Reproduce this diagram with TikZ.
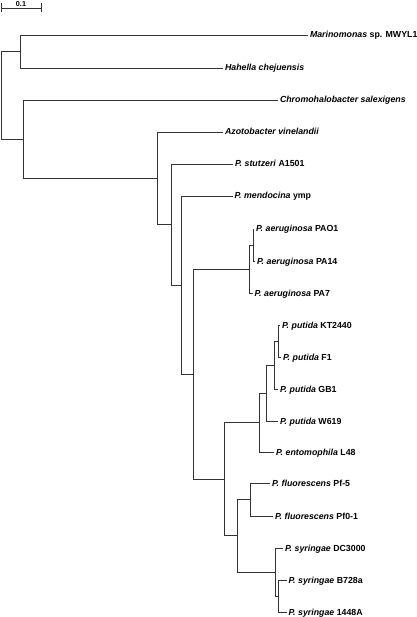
\documentclass[tikz,border=0pt]{standalone}
\usepackage{fontspec}
\setmainfont{Liberation Sans}
\begin{document}
\begin{tikzpicture}[x=1pt,y=-1pt,
  branch/.style={draw=black!80,line width=0.9pt},
  leaf/.style={anchor=west,inner xsep=1.8pt,inner ysep=0pt,font=\fontsize{8.8}{10}\selectfont\bfseries,text height=6.3pt,text depth=0.3pt},
  scalelabel/.style={anchor=south,inner sep=0.6pt,font=\fontsize{7.2}{8}\selectfont\bfseries}]
\useasboundingbox (0,0) rectangle (416,617);
% scale bar
\coordinate (sbL) at (1,8);
\coordinate (sbR) at (41,8);
\draw[branch] (sbL) -- (sbR);
\draw[branch] ([yshift=-4.5pt]sbL) -- ([yshift=4.5pt]sbL);
\draw[branch] ([yshift=-4.5pt]sbR) -- ([yshift=4.5pt]sbR);
\node[scalelabel] (sb) at (21,7.5) {0.1};
% leaves
\node[leaf] (mar) at (308,35) {\textit{Marinomonas} sp. MWYL1};
\node[leaf] (hah) at (223,68) {\textit{Hahella chejuensis}};
\node[leaf] (chr) at (278,100) {\textit{Chromohalobacter salexigens}};
\node[leaf] (azo) at (223,132) {\textit{Azotobacter vinelandii}};
\node[leaf] (stu) at (233,164) {\textit{P. stutzeri} A1501};
\node[leaf] (men) at (232.5,196) {\textit{P. mendocina} ymp};
\node[leaf] (pao) at (254,229) {\textit{P. aeruginosa} PAO1};
\node[leaf] (pa14) at (255,261) {\textit{P. aeruginosa} PA14};
\node[leaf] (pa7) at (252.5,293) {\textit{P. aeruginosa} PA7};
\node[leaf] (kt) at (280,325) {\textit{P. putida} KT2440};
\node[leaf] (f1) at (281,357) {\textit{P. putida} F1};
\node[leaf] (gb1) at (278,389) {\textit{P. putida} GB1};
\node[leaf] (w619) at (278,421) {\textit{P. putida} W619};
\node[leaf] (ent) at (274,452.5) {\textit{P. entomophila} L48};
\node[leaf] (pf5) at (270,483.5) {\textit{P. fluorescens} Pf-5};
\node[leaf] (pf01) at (273,516) {\textit{P. fluorescens} Pf0-1};
\node[leaf] (dc) at (283,548) {\textit{P. syringae} DC3000};
\node[leaf] (b728) at (286.5,580) {\textit{P. syringae} B728a};
\node[leaf] (s1448) at (286.5,612) {\textit{P. syringae} 1448A};
% internal nodes
\coordinate (root) at (1,95.3);
\coordinate (A) at (20,51.5);
\coordinate (B) at (23,139.1);
\coordinate (C) at (157,178.3);
\coordinate (D) at (171,224.5);
\coordinate (E) at (181,285.1);
\coordinate (F) at (193,374.1);
\coordinate (G) at (249,269);
\coordinate (H) at (253,245);
\coordinate (J) at (224,479.3);
\coordinate (K) at (259.3,422.75);
\coordinate (L) at (266,393);
\coordinate (M) at (274,365);
\coordinate (N) at (278.3,341);
\coordinate (O) at (237.3,535.9);
\coordinate (P) at (250.7,499.75);
\coordinate (Q) at (275,572);
\coordinate (R) at (278.3,596);
% branches
\draw[branch] (root) |- (A);
\draw[branch] (root) |- (B);
\draw[branch] (A) |- (mar.west);
\draw[branch] (A) |- (hah.west);
\draw[branch] (B) |- (chr.west);
\draw[branch] (B) |- (C);
\draw[branch] (C) |- (azo.west);
\draw[branch] (C) |- (D);
\draw[branch] (D) |- (stu.west);
\draw[branch] (D) |- (E);
\draw[branch] (E) |- (men.west);
\draw[branch] (E) |- (F);
\draw[branch] (F) |- (G);
\draw[branch] (F) |- (J);
\draw[branch] (G) |- (H);
\draw[branch] (G) |- (pa7.west);
\draw[branch] (H) |- (pao.west);
\draw[branch] (H) |- (pa14.west);
\draw[branch] (J) |- (K);
\draw[branch] (J) |- (O);
\draw[branch] (K) |- (L);
\draw[branch] (K) |- (ent.west);
\draw[branch] (L) |- (M);
\draw[branch] (L) |- (w619.west);
\draw[branch] (M) |- (N);
\draw[branch] (M) |- (gb1.west);
\draw[branch] (N) |- (kt.west);
\draw[branch] (N) |- (f1.west);
\draw[branch] (O) |- (P);
\draw[branch] (O) |- (Q);
\draw[branch] (P) |- (pf5.west);
\draw[branch] (P) |- (pf01.west);
\draw[branch] (Q) |- (dc.west);
\draw[branch] (Q) |- (R);
\draw[branch] (R) |- (b728.west);
\draw[branch] (R) |- (s1448.west);
\end{tikzpicture}
\end{document}
